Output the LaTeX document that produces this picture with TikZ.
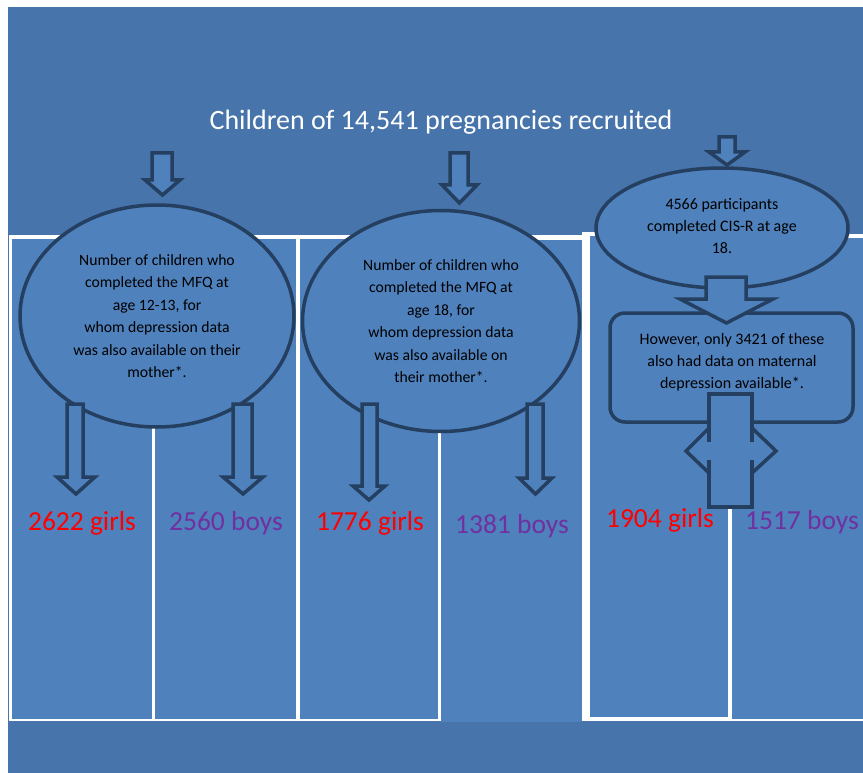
\documentclass[tikz,border=0pt]{standalone}
\usepackage{fontspec}
\setmainfont{Carlito}
\usetikzlibrary{shapes.geometric}
\definecolor{bgdark}{HTML}{4674AB}
\definecolor{panel}{HTML}{4F81BD}
\definecolor{navy}{HTML}{243F60}
\definecolor{girlred}{HTML}{FF0000}
\definecolor{boypurple}{HTML}{7030A0}
\tikzset{
  blockarrow/.style={fill=panel, draw=navy, line width=3.5pt},
  oval/.style={ellipse, fill=panel, draw=navy, line width=3.5pt, inner sep=0pt, align=center, text=black},
  ovaltext/.style={font=\fontsize{15.7}{22.5}\selectfont},
  smalltext/.style={font=\fontsize{16}{22}\selectfont, align=center, text=black},
  girls/.style={anchor=base, text=girlred, font=\fontsize{27.5}{30}\selectfont},
  boys/.style={anchor=base, text=boypurple, font=\fontsize{27.5}{30}\selectfont},
  panelbox/.style={fill=panel},
  framebox/.style={fill=white},
  calloutline/.style={draw=navy, line width=3.5pt}
}
\newcommand\blkarrow[7]{\draw[blockarrow] (#1,#5) -- (#2,#5) -- (#2,#6) -- (#4,#6) -- ({(#3+#4)/2},#7) -- (#3,#6) -- (#1,#6) -- cycle;}
\begin{document}
\begin{tikzpicture}[x=1pt,y=-1pt]
\useasboundingbox (0,0) rectangle (863,773);
\fill[white] (0,0) rectangle (863,773);
\fill[bgdark] (8,7) rectangle (863,773);
% white frames
\fill[framebox] (9,235) rectangle (590,721);
\fill[framebox] (582,232) rectangle (732,721);
\fill[framebox] (729,234) rectangle (863,721);
% panels
\fill[panelbox] (12,239) rectangle (152,719);
\fill[panelbox] (155,239) rectangle (296,719);
\fill[panelbox] (300,239) rectangle (438,719);
\fill[panelbox] (441,240) rectangle (582,722);
\fill[panelbox] (590,236) rectangle (728,717);
\fill[panelbox] (732,238) rectangle (863,719);
% title
\node[anchor=base, text=white, font=\fontsize{28}{32}\selectfont] (title) at (441,130) {Children of 14,541 pregnancies recruited};
% top arrows
\blkarrow{152}{172}{145}{180}{153}{180}{195}
\blkarrow{450}{468}{442}{477}{153}{185}{203}
\blkarrow{719}{735}{709}{745}{137}{152}{165}
% ellipses
\node[oval, ovaltext, minimum width=274pt, minimum height=222pt] (e1) at (157,316)
  {Number of children who\\completed the MFQ at\\age 12-13, for\\whom depression data\\was also available on their\\mother*.};
\node[oval, ovaltext, minimum width=277pt, minimum height=221pt] (e2) at (441,321)
  {Number of children who\\completed the MFQ at\\age 18, for\\whom depression data\\was also available on\\their mother*.};
\node[oval, minimum width=252pt, minimum height=120pt] (e3) at (722,228) {};
\node[smalltext] (t3) at (722,226) {4566 participants\\completed CIS-R at age\\18.};
% arrows below ellipses
\blkarrow{67}{83}{57}{95}{404}{477}{494}
\blkarrow{233}{252}{223}{263}{404}{477}{494}
\blkarrow{362}{377}{353}{385}{404}{486}{500}
\blkarrow{527}{543}{519}{552}{404}{478}{494}
% box
\node[draw=navy, line width=3.5pt, fill=panel, rounded corners=15pt, minimum width=243pt, minimum height=109pt, inner sep=0pt] (box) at (731.5,367.5) {};
\node[smalltext] (tb) at (732,362) {However, only 3421 of these\\also had data on maternal\\depression available*.};
% arrow ellipse 3 -> box
\blkarrow{706}{746}{680}{773}{277}{299}{323}
% callout
\fill[panel] (709,394) -- (752,394) -- (752,428) -- (776,451) -- (752,473) -- (752,507) -- (709,507) -- (709,473) -- (686,451) -- (709,428) -- cycle;
\draw[calloutline] (752,442) -- (752,394) -- (709,394) -- (709,442);
\draw[calloutline] (752,460) -- (752,507) -- (709,507) -- (709,460);
\draw[calloutline] (752,428) -- (776,451) -- (752,473);
\draw[calloutline] (709,428) -- (686,451) -- (709,473);
% labels
\node[girls] (g1) at (82,530) {2622 girls};
\node[boys] (b1) at (226,530) {2560 boys};
\node[girls] (g2) at (370,530) {1776 girls};
\node[boys] (b2) at (512,533) {1381 boys};
\node[girls] (g3) at (660,527) {1904 girls};
\node[boys] (b3) at (802,529) {1517 boys};
\end{tikzpicture}
\end{document}
